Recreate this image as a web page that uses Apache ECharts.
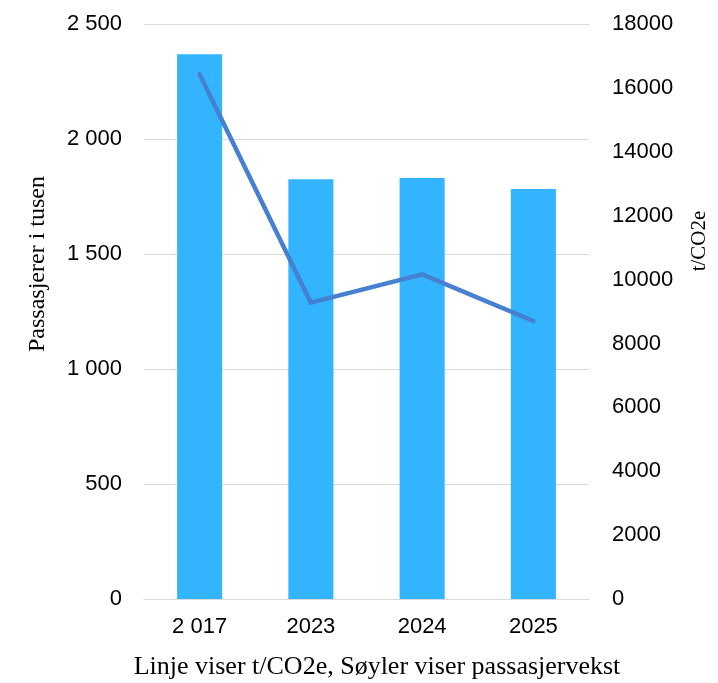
<!DOCTYPE html>
<html><head><meta charset="utf-8">
<script src="https://cdn.jsdelivr.net/npm/echarts@6/dist/echarts.min.js"></script>
<style>html,body{margin:0;padding:0;background:#fff}#c{width:718px;height:683px}</style>
</head><body><div id="c"></div>
<script>
const categories = ['2 017', '2023', '2024', '2025'];
const passengers = [2368, 1825, 1830, 1783];
const co2 = [16425, 9276, 10164, 8703];

const chart = echarts.init(document.getElementById('c'), null, {renderer: 'canvas'});
const fmt = v => String(v).replace(/\B(?=(\d{3})+(?!\d))/g, ' ');
const labelFont = {color: '#000', fontFamily: 'Liberation Sans, Arial', fontSize: 22};
chart.setOption({
  animation: false,
  grid: {left: 144, right: 129, top: 24, bottom: 84},
  xAxis: {
    type: 'category', data: categories,
    axisLine: {lineStyle: {color: '#d9d9d9', width: 1}},
    axisTick: {show: false},
    axisLabel: Object.assign({margin: 17}, labelFont)
  },
  yAxis: [{
    type: 'value', min: 0, max: 2500, interval: 500,
    axisLine: {show: false}, axisTick: {show: false},
    splitLine: {lineStyle: {color: '#d9d9d9', width: 1}},
    axisLabel: Object.assign({margin: 22, formatter: fmt}, labelFont)
  }, {
    type: 'value', min: 0, max: 18000, interval: 2000,
    axisLine: {show: false}, axisTick: {show: false}, splitLine: {show: false},
    axisLabel: Object.assign({margin: 23, formatter: v => String(v)}, labelFont)
  }],
  graphic: [
    {type: 'text', x: 38, y: 264, rotation: Math.PI / 2, style: {text: 'Passasjerer i tusen', fill: '#000', font: '24px "Liberation Serif", serif', textAlign: 'center', textVerticalAlign: 'middle'}},
    {type: 'text', x: 699, y: 241, rotation: Math.PI / 2, style: {text: 't/CO2e', fill: '#000', font: '21px "Liberation Serif", serif', textAlign: 'center', textVerticalAlign: 'middle'}},
    {type: 'text', x: 377, y: 667, style: {text: 'Linje viser t/CO2e, Søyler viser passasjervekst', fill: '#000', font: '26px "Liberation Serif", serif', textAlign: 'center', textVerticalAlign: 'middle'}}
  ],
  series: [{
    type: 'bar', data: passengers, yAxisIndex: 0, barWidth: '40.5%',
    itemStyle: {color: '#33B4FF'}
  }, {
    type: 'line', data: co2, yAxisIndex: 1, symbol: 'none',
    lineStyle: {color: '#4680D0', width: 4.5, cap: 'round', join: 'round'}
  }]
});
</script></body></html>
